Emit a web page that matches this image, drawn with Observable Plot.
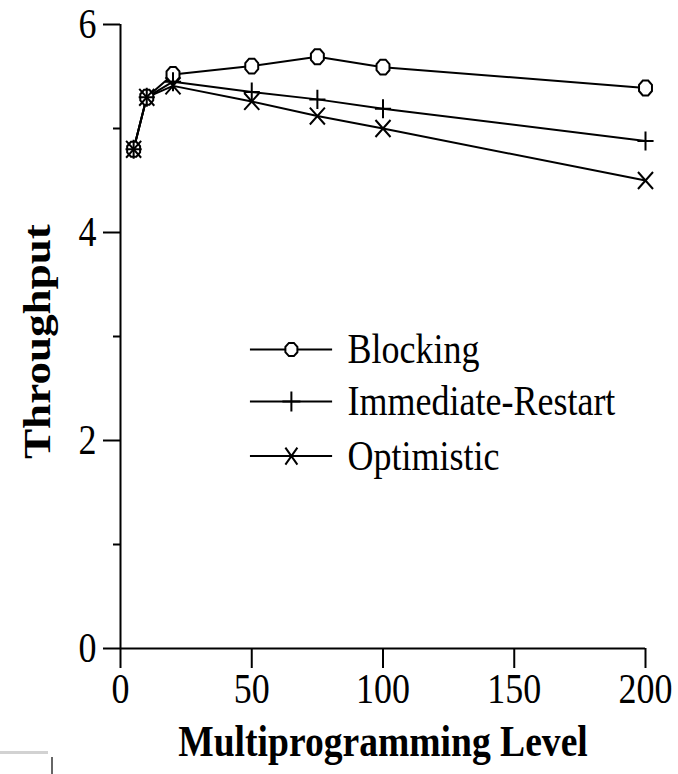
<!DOCTYPE html>
<html>
<head>
<meta charset="utf-8">
<script src="https://cdn.jsdelivr.net/npm/d3@7"></script>
<script src="https://cdn.jsdelivr.net/npm/@observablehq/plot@0.6"></script>
<style>
  html, body { margin: 0; padding: 0; background: #fff; }
  #chart { position: relative; width: 678px; height: 774px; }
  #chart svg { display: block; }
  .artifact { position: absolute; }
</style>
</head>
<body>
<div id="chart"></div>
<script>
// ---- data ----
const levels = [5, 10, 20, 50, 75, 100, 200];
const blocking = [4.8, 5.3, 5.52, 5.6, 5.69, 5.59, 5.39];
const immediateRestart = [4.8, 5.3, 5.45, 5.35, 5.28, 5.19, 4.88];
const optimistic = [4.8, 5.3, 5.41, 5.26, 5.12, 5.0, 4.5];
const seriesNames = ["Blocking", "Immediate-Restart", "Optimistic"];
const xTicks = [0, 50, 100, 150, 200];
const yTicks = [0, 2, 4, 6];
const yMinorTicks = [1, 3, 5];
const xLabel = "Multiprogramming Level";
const yLabel = "Throughput";

// ---- layout constants (legend placed in data units) ----
const legendRowsY = [2.875, 2.375, 1.85];
const legendLineX1 = 49.5, legendLineX2 = 80.8, legendMarkX = 65.1, legendTextX = 86.5;
const STRETCH = 1.2;

// ---- custom marker symbols (slightly taller than wide, like the reference) ----
function octagon(kx, ky) {
  return {draw(ctx, size) {
    const r = Math.sqrt(size / Math.PI);
    for (let k = 0; k < 8; ++k) {
      const a = (k + 0.5) * Math.PI / 4;
      const px = r * kx * Math.cos(a), py = r * ky * Math.sin(a);
      if (k) ctx.lineTo(px, py); else ctx.moveTo(px, py);
    }
    ctx.closePath();
  }};
}
function plus(kx, ky) {
  return {draw(ctx, size) {
    const r = Math.sqrt(size / Math.PI);
    ctx.moveTo(-r * kx, 0); ctx.lineTo(r * kx, 0);
    ctx.moveTo(0, -r * ky); ctx.lineTo(0, r * ky);
  }};
}
function times(kx, ky) {
  return {draw(ctx, size) {
    const r = Math.sqrt(size / Math.PI);
    ctx.moveTo(-r * kx, -r * ky); ctx.lineTo(r * kx, r * ky);
    ctx.moveTo(-r * kx, r * ky); ctx.lineTo(r * kx, -r * ky);
  }};
}
const plotSymbols = [octagon(1, 1.15), plus(0.95, 1.12), times(0.94, 1.06)];
const plotR = [7, 8.5, 8];
const legendSymbols = [octagon(1, 1.1), plus(0.9, 1.0), times(0.6, 0.85)];
const legendR = [6.5, 10, 10];

const seriesValues = [blocking, immediateRestart, optimistic];
const rows = seriesNames.flatMap((name, s) =>
  levels.map((x, i) => ({name, x, y: seriesValues[s][i]})));
const legendRows = seriesNames.map((name, i) => ({name, ly: legendRowsY[i], i}));

const marks = [
  Plot.ruleX([0], {stroke: "black", strokeWidth: 2}),
  Plot.ruleY([0], {stroke: "black", strokeWidth: 2}),
  Plot.axisX(xTicks, {tickSize: 20, tickPadding: 7, strokeWidth: 2, tickFormat: d3.format("d"), label: null}),
  Plot.axisY(yTicks, {tickSize: 17, tickPadding: 7, strokeWidth: 2, tickFormat: d3.format("d"), label: null}),
  Plot.axisY(yMinorTicks, {tickSize: 7, strokeWidth: 2, tickFormat: () => "", label: null}),
  Plot.line(rows, {x: "x", y: "y", z: "name", stroke: "black", strokeWidth: 2})
];
seriesNames.forEach((name, s) => {
  marks.push(Plot.dot(rows.filter(d => d.name === name), {
    x: "x", y: "y", symbol: plotSymbols[s], r: plotR[s],
    fill: "white", stroke: "black", strokeWidth: 2
  }));
});
// legend
marks.push(Plot.ruleY(legendRows, {y: "ly", x1: legendLineX1, x2: legendLineX2, stroke: "black", strokeWidth: 2}));
seriesNames.forEach((name, s) => {
  marks.push(Plot.dot(legendRows.filter(d => d.i === s), {
    x: () => legendMarkX, y: "ly", symbol: legendSymbols[s], r: legendR[s],
    fill: "white", stroke: "black", strokeWidth: 2
  }));
});
marks.push(Plot.text(legendRows, {x: () => legendTextX, y: "ly", text: "name", textAnchor: "start", fontSize: 36, fill: "black"}));
// axis titles
marks.push(Plot.text([xLabel], {frameAnchor: "bottom", textAnchor: "middle", lineAnchor: "middle", dy: 93, text: d => d, fontWeight: "bold", fontSize: 37.6, fill: "black"}));
marks.push(Plot.text([yLabel], {frameAnchor: "left", textAnchor: "middle", lineAnchor: "middle", dx: -83, dy: 5, rotate: -90, text: d => d, fontWeight: "bold", fontSize: 37.6, fill: "black"}));

const svg = Plot.plot({
  width: 678,
  height: 774,
  marginLeft: 120,
  marginRight: 33,
  marginTop: 24,
  marginBottom: 126,
  x: {domain: [0, 200]},
  y: {domain: [0, 6]},
  style: {fontFamily: "'Liberation Serif', 'Times New Roman', serif", fontSize: "36px", color: "black", background: "white", overflow: "visible"},
  marks
});
const chart = document.getElementById("chart");
chart.appendChild(svg);

// stretch all text vertically about its own on-screen centre (the reference scan is vertically stretched)
const centers = [];
svg.querySelectorAll("text").forEach(t => {
  const r = t.getBoundingClientRect();
  centers.push([t, r.x + r.width / 2, r.y + r.height / 2]);
});
centers.forEach(([t, sx, sy]) => {
  const P = t.parentNode.getScreenCTM().inverse();
  const pt = svg.createSVGPoint();
  pt.x = sx; pt.y = sy;
  const q = pt.matrixTransform(P);
  const orig = t.getAttribute("transform") || "";
  t.setAttribute("transform", `translate(${q.x},${q.y}) scale(1,${STRETCH}) translate(${-q.x},${-q.y}) ${orig}`);
});

// scan artifacts at bottom-left of the reference
const a1 = document.createElement("div");
a1.className = "artifact";
Object.assign(a1.style, {left: "0px", top: "751px", width: "48px", height: "3px", background: "#d2d2d2"});
const a2 = document.createElement("div");
a2.className = "artifact";
Object.assign(a2.style, {left: "51px", top: "757px", width: "2px", height: "17px", background: "#666"});
chart.appendChild(a1); chart.appendChild(a2);
</script>
</body>
</html>
